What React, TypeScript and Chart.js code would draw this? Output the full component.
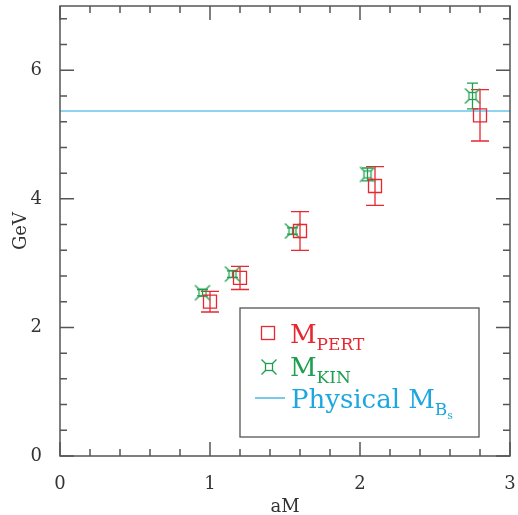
import React, { useEffect, useRef } from "react";
import Chart from "chart.js/auto";

const pertX = [1.0, 1.2, 1.6, 2.1, 2.8];
const pertY = [2.4, 2.77, 3.5, 4.2, 5.3];
const pertErr = [0.16, 0.18, 0.3, 0.3, 0.4];
const kinX = [0.95, 1.15, 1.55, 2.05, 2.75];
const kinY = [2.54, 2.83, 3.5, 4.38, 5.6];
const kinErr = [0.05, 0.05, 0.05, 0.1, 0.2];
const physicalMBs = 5.367;
const xTicks = [0, 1, 2, 3];
const yTicks = [0, 2, 4, 6];

const RED = "#e8272f";
const GREEN = "#1f9e4f";
const BLUE = "#1ea7df";
const FRAME = "#555";
const SERIF = "'DejaVu Serif', serif";

function makeKinMarker(): HTMLCanvasElement {
  const c = document.createElement("canvas");
  c.width = 18;
  c.height = 18;
  const g = c.getContext("2d")!;
  g.strokeStyle = GREEN;
  g.lineWidth = 1.3;
  const m = 9, h = 3.5, o = 7.5;
  g.strokeRect(m - h, m - h, 2 * h, 2 * h);
  g.beginPath();
  g.moveTo(m - o, m - o); g.lineTo(m - h, m - h);
  g.moveTo(m + o, m - o); g.lineTo(m + h, m - h);
  g.moveTo(m - o, m + o); g.lineTo(m - h, m + h);
  g.moveTo(m + o, m + o); g.lineTo(m + h, m + h);
  g.stroke();
  return c;
}

export default function App() {
  const ref = useRef<HTMLCanvasElement | null>(null);
  useEffect(() => {
    const canvas = ref.current!;
    const kinMarker = makeKinMarker();
    const errs: Record<number, { err: number[]; cap: number; color: string }> = {
      0: { err: pertErr, cap: 18, color: RED },
      1: { err: kinErr, cap: 11, color: GREEN },
    };

    const errorBars = {
      id: "errorBars",
      beforeDatasetsDraw(chart: any) {
        const ctx = chart.ctx;
        const xs = chart.scales.x, ys = chart.scales.y;
        Object.keys(errs).forEach((k) => {
          const i = Number(k);
          const ds = chart.data.datasets[i];
          const e = errs[i];
          ctx.save();
          ctx.strokeStyle = e.color;
          ctx.lineWidth = 1.3;
          ds.data.forEach((p: any, j: number) => {
            const px = xs.getPixelForValue(p.x);
            const y1 = ys.getPixelForValue(p.y + e.err[j]);
            const y2 = ys.getPixelForValue(p.y - e.err[j]);
            ctx.beginPath();
            ctx.moveTo(px, y1); ctx.lineTo(px, y2);
            ctx.moveTo(px - e.cap / 2, y1); ctx.lineTo(px + e.cap / 2, y1);
            ctx.moveTo(px - e.cap / 2, y2); ctx.lineTo(px + e.cap / 2, y2);
            ctx.stroke();
          });
          ctx.restore();
        });
      },
    };

    const frame = {
      id: "frame",
      afterDraw(chart: any) {
        const ctx = chart.ctx;
        const { left, right, top, bottom } = chart.chartArea;
        const xs = chart.scales.x, ys = chart.scales.y;
        ctx.save();
        ctx.strokeStyle = FRAME;
        ctx.lineWidth = 1.5;
        ctx.strokeRect(left, top, right - left, bottom - top);
        ctx.beginPath();
        for (let k = 0; k <= 15; k++) {
          const v = k * 0.2;
          const len = k % 5 === 0 ? 14 : 7;
          const px = xs.getPixelForValue(v);
          ctx.moveTo(px, bottom); ctx.lineTo(px, bottom - len);
          ctx.moveTo(px, top); ctx.lineTo(px, top + len);
        }
        for (let k = 0; k <= 17; k++) {
          const v = k * 0.4;
          const len = k % 5 === 0 ? 14 : 7;
          const py = ys.getPixelForValue(v);
          ctx.moveTo(left, py); ctx.lineTo(left + len, py);
          ctx.moveTo(right, py); ctx.lineTo(right - len, py);
        }
        ctx.stroke();

        // legend
        const bx = 240, by = 308, bw = 239, bh = 129;
        ctx.fillStyle = "#fff";
        ctx.fillRect(bx, by, bw, bh);
        ctx.strokeStyle = "#555";
        ctx.lineWidth = 1.3;
        ctx.strokeRect(bx, by, bw, bh);

        ctx.textBaseline = "alphabetic";
        ctx.textAlign = "left";
        // PERT
        ctx.strokeStyle = RED;
        ctx.lineWidth = 1.3;
        ctx.strokeRect(268 - 6.5, 333 - 6.5, 13, 13);
        ctx.fillStyle = RED;
        ctx.font = `26px ${SERIF}`;
        ctx.fillText("M", 290, 343);
        const w = ctx.measureText("M").width;
        ctx.font = `17px ${SERIF}`;
        ctx.fillText("PERT", 290 + w, 350);
        // KIN
        ctx.drawImage(kinMarker, 269 - 9, 367 - 9);
        ctx.fillStyle = GREEN;
        ctx.font = `26px ${SERIF}`;
        ctx.fillText("M", 290, 376);
        ctx.font = `17px ${SERIF}`;
        ctx.fillText("KIN", 290 + w, 383);
        // Physical
        ctx.strokeStyle = BLUE;
        ctx.lineWidth = 1.2;
        ctx.beginPath();
        ctx.moveTo(255, 398); ctx.lineTo(285, 398);
        ctx.stroke();
        ctx.fillStyle = BLUE;
        ctx.font = `26px ${SERIF}`;
        const t = "Physical M";
        ctx.fillText(t, 291, 408);
        const tw = ctx.measureText(t).width;
        ctx.font = `17px ${SERIF}`;
        ctx.fillText("B", 291 + tw, 415);
        const bw2 = ctx.measureText("B").width;
        ctx.font = `11px ${SERIF}`;
        ctx.fillText("s", 291 + tw + bw2, 419);
        ctx.restore();
      },
    };

    const chart = new Chart(canvas, {
      type: "scatter",
      data: {
        datasets: [
          {
            label: "M_PERT",
            data: pertX.map((x, i) => ({ x, y: pertY[i] })),
            pointStyle: "rect",
            pointRadius: 9.2,
            pointBorderColor: RED,
            pointBackgroundColor: "rgba(0,0,0,0)",
            pointBorderWidth: 1.3,
            borderColor: RED,
          },
          {
            label: "M_KIN",
            data: kinX.map((x, i) => ({ x, y: kinY[i] })),
            pointStyle: kinMarker as any,
            pointRadius: 9,
            borderColor: GREEN,
          },
          {
            type: "line",
            label: "Physical M_Bs",
            data: [{ x: 0, y: physicalMBs }, { x: 3, y: physicalMBs }],
            borderColor: BLUE,
            borderWidth: 1.2,
            pointRadius: 0,
          } as any,
        ],
      },
      options: {
        responsive: false,
        animation: false,
        layout: { autoPadding: false, padding: { left: 0, top: 6, right: 8, bottom: 0 } },
        plugins: { legend: { display: false }, tooltip: { enabled: false } },
        scales: {
          x: {
            type: "linear",
            min: 0,
            max: 3,
            grid: { display: false },
            border: { display: false },
            afterBuildTicks: (s: any) => { s.ticks = xTicks.map((v) => ({ value: v })); },
            afterFit: (s: any) => { s.height = 59; s.paddingLeft = 0; s.paddingRight = 0; },
            ticks: { color: "#333", font: { family: SERIF, size: 18 }, padding: 10 },
            title: {
              display: true,
              text: "aM",
              color: "#333",
              font: { family: SERIF, size: 18, lineHeight: 1 },
              padding: { top: 0, bottom: -1 },
            },
          },
          y: {
            type: "linear",
            min: 0,
            max: 7,
            grid: { display: false },
            border: { display: false },
            afterBuildTicks: (s: any) => { s.ticks = yTicks.map((v) => ({ value: v })); },
            afterFit: (s: any) => { s.width = 60; s.paddingTop = 0; s.paddingBottom = 0; },
            ticks: { color: "#333", font: { family: SERIF, size: 18 }, padding: 10 },
            title: {
              display: true,
              text: "GeV",
              color: "#333",
              font: { family: SERIF, size: 18, lineHeight: 1 },
              padding: { top: 12, bottom: 0 },
            },
          },
        },
      },
      plugins: [errorBars, frame],
    } as any);
    return () => chart.destroy();
  }, []);

  return (
    <div style={{ position: "absolute", left: 0, top: 0, width: 518, height: 515, background: "#fff" }}>
      <canvas ref={ref} width={518} height={515} />
    </div>
  );
}
